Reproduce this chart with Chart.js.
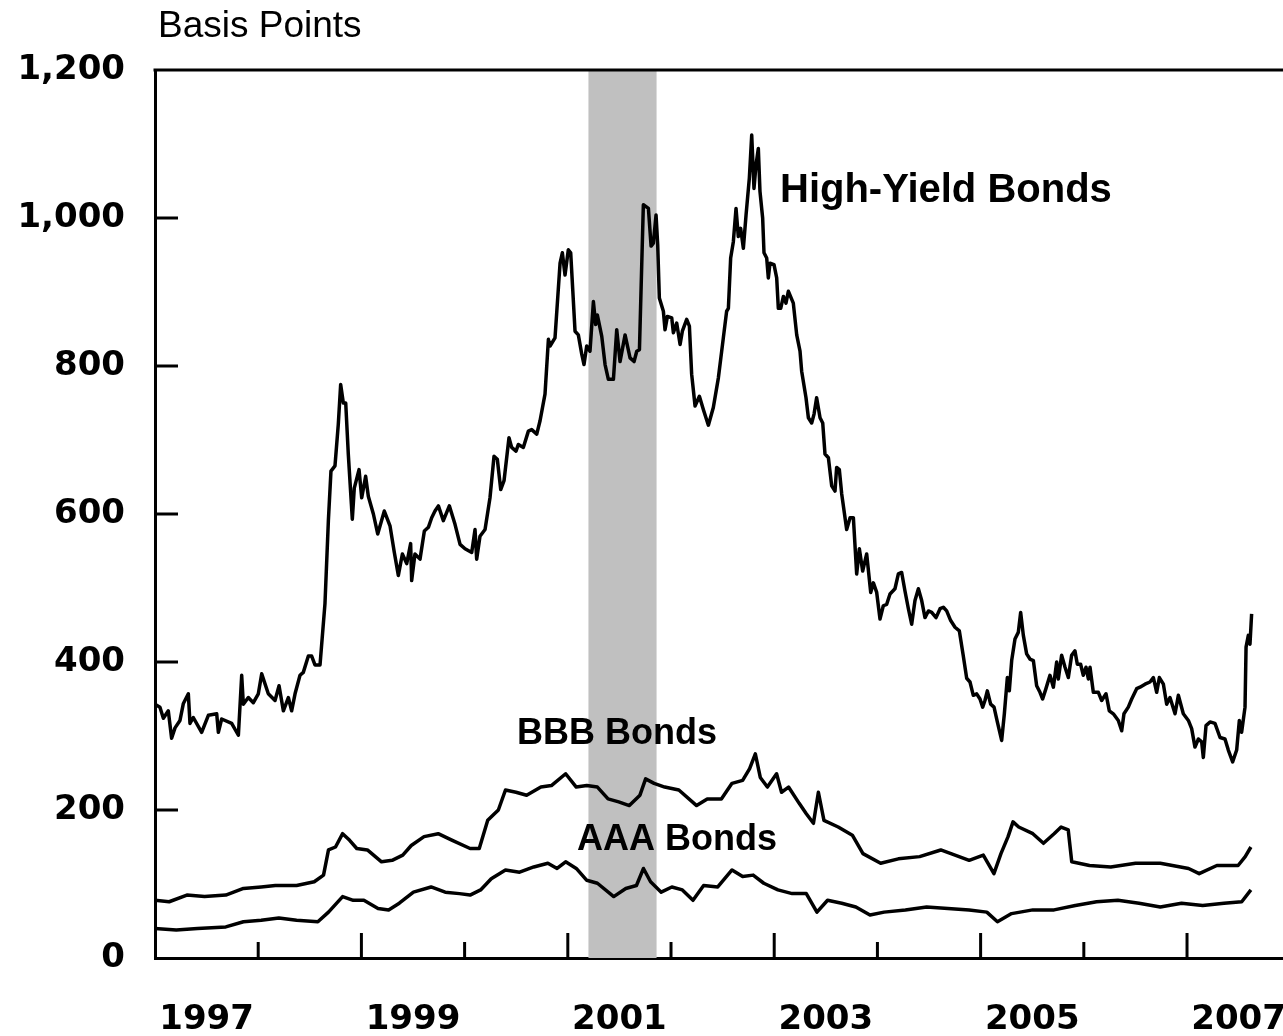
<!DOCTYPE html>
<html>
<head>
<meta charset="utf-8">
<title>Corporate Bond Spreads</title>
<script src="https://cdn.jsdelivr.net/npm/chart.js@4.4.1/dist/chart.umd.min.js"></script>
<style>
    html, body { margin: 0; padding: 0; background: #fff; }
    #wrap { width: 1283px; height: 1036px; }
</style>
</head>
<body>
<div id="wrap"><canvas id="spreadChart" width="1283" height="1036"></canvas></div>
<script>
// High-yield spread, basis points (decimal year / value)
const hyYears = [1997.000, 1997.048, 1997.081, 1997.129, 1997.161, 1997.194, 1997.242, 1997.275, 1997.323, 1997.339, 1997.371, 1997.452, 1997.517, 1997.598, 1997.614, 1997.646, 1997.743, 1997.808, 1997.840, 1997.856, 1997.904, 1997.953,
    1998.001, 1998.034, 1998.098, 1998.163, 1998.202, 1998.244, 1998.292, 1998.324, 1998.357, 1998.405, 1998.437, 1998.486, 1998.518, 1998.550, 1998.599, 1998.647, 1998.680, 1998.705, 1998.744, 1998.776, 1998.799, 1998.825, 1998.848, 1998.873, 1998.912, 1998.931, 1998.977,
    1999.003, 1999.041, 1999.067, 1999.116, 1999.158, 1999.222, 1999.277, 1999.319, 1999.358, 1999.397, 1999.439, 1999.477, 1999.487, 1999.519, 1999.568, 1999.610, 1999.649, 1999.681, 1999.713, 1999.746, 1999.794, 1999.852, 1999.907, 1999.956,
    2000.004, 2000.069, 2000.101, 2000.117, 2000.149, 2000.198, 2000.246, 2000.285, 2000.317, 2000.350, 2000.382, 2000.430, 2000.456, 2000.498, 2000.521, 2000.569, 2000.618, 2000.650, 2000.699, 2000.731, 2000.779, 2000.812, 2000.828, 2000.876, 2000.925, 2000.947, 2000.973,
    2001.005, 2001.028, 2001.070, 2001.102, 2001.135, 2001.157, 2001.183, 2001.215, 2001.248, 2001.270, 2001.286, 2001.329, 2001.361, 2001.393, 2001.442, 2001.474, 2001.506, 2001.555, 2001.603, 2001.642, 2001.668, 2001.694, 2001.732, 2001.781, 2001.807, 2001.829, 2001.855, 2001.871, 2001.887, 2001.926, 2001.942, 2001.965,
    2002.007, 2002.023, 2002.055, 2002.088, 2002.110, 2002.152, 2002.178, 2002.200, 2002.233, 2002.275, 2002.314, 2002.362, 2002.410, 2002.459, 2002.507, 2002.539, 2002.556, 2002.578, 2002.604, 2002.630, 2002.652, 2002.675, 2002.701, 2002.727, 2002.759, 2002.782, 2002.804, 2002.824, 2002.846, 2002.862, 2002.888, 2002.901, 2002.927, 2002.943, 2002.959, 2002.998,
    2003.024, 2003.040, 2003.063, 2003.089, 2003.114, 2003.137, 2003.185, 2003.218, 2003.250, 2003.266, 2003.308, 2003.331, 2003.363, 2003.386, 2003.411, 2003.444, 2003.470, 2003.492, 2003.525, 2003.557, 2003.589, 2003.605, 2003.631, 2003.654, 2003.702, 2003.735, 2003.767, 2003.799, 2003.825, 2003.857, 2003.896, 2003.935, 2003.961, 2003.993,
    2004.025, 2004.057, 2004.090, 2004.122, 2004.170, 2004.203, 2004.235, 2004.267, 2004.300, 2004.332, 2004.364, 2004.397, 2004.429, 2004.461, 2004.494, 2004.526, 2004.568, 2004.607, 2004.639, 2004.671, 2004.710, 2004.752, 2004.794, 2004.830, 2004.865, 2004.897, 2004.929, 2004.962, 2004.994,
    2005.020, 2005.042, 2005.065, 2005.097, 2005.130, 2005.162, 2005.204, 2005.230, 2005.259, 2005.278, 2005.301, 2005.333, 2005.365, 2005.388, 2005.414, 2005.446, 2005.478, 2005.511, 2005.543, 2005.575, 2005.601, 2005.633, 2005.672, 2005.705, 2005.737, 2005.753, 2005.785, 2005.818, 2005.850, 2005.882, 2005.914, 2005.937, 2005.969, 2005.995,
    2006.021, 2006.044, 2006.060, 2006.092, 2006.141, 2006.173, 2006.215, 2006.247, 2006.286, 2006.334, 2006.367, 2006.389, 2006.431, 2006.464, 2006.512, 2006.544, 2006.593, 2006.641, 2006.674, 2006.706, 2006.732, 2006.771, 2006.803, 2006.835, 2006.884, 2006.916, 2006.964,
    2007.013, 2007.045, 2007.077, 2007.110, 2007.142, 2007.158, 2007.184, 2007.223, 2007.271, 2007.320, 2007.368, 2007.400, 2007.442, 2007.481, 2007.507, 2007.529, 2007.562, 2007.572, 2007.594, 2007.610, 2007.626];
const hyBps = [343, 339, 324, 334, 297, 311, 321, 344, 357, 317, 325, 305, 328, 330, 305, 323, 317, 301, 382, 343, 352, 345,
    357, 384, 357, 348, 368, 334, 352, 334, 357, 382, 386, 408, 408, 396, 396, 479, 591, 658, 665, 721, 775, 750, 750, 681, 593, 635, 660,
    622, 651, 624, 600, 573, 604, 584, 548, 517, 546, 533, 560, 510, 546, 539, 577, 582, 595, 604, 611, 591, 611, 586, 559,
    553, 548, 579, 539, 570, 579, 622, 678, 674, 633, 645, 703, 690, 685, 694, 690, 712, 714, 708, 726, 762, 836, 827, 838, 939, 953, 923,
    957, 953, 847, 842, 816, 802, 827, 820, 887, 856, 869, 840, 802, 782, 782, 849, 806, 842, 811, 806, 820, 822, 1018, 1013, 962, 966, 1004, 964, 892, 874, 849, 867,
    865, 845, 858, 829, 847, 863, 854, 789, 746, 759, 741, 720, 744, 784, 838, 874, 878, 946, 968, 1013, 975, 986, 959, 1004, 1054, 1112, 1040, 1072, 1094, 1036, 1000, 953, 946, 919, 939, 937,
    919, 878, 878, 894, 885, 901, 885, 842, 820, 793, 757, 730, 723, 735, 757, 730, 723, 681, 676, 638, 631, 663, 660, 627, 579, 595, 595, 519, 553, 523, 546, 494, 507, 494,
    458, 476, 478, 492, 499, 519, 521, 496, 472, 451, 483, 499, 483, 460, 469, 467, 460, 472, 474, 469, 456, 447, 442, 410, 378, 373, 355, 357, 350,
    339, 348, 361, 343, 339, 319, 294, 330, 379, 361, 402, 431, 440, 467, 436, 411, 404, 402, 368, 359, 350, 364, 382, 366, 400, 377, 409, 393, 379, 409, 415, 397, 397, 382,
    393, 377, 393, 359, 359, 348, 357, 334, 330, 321, 307, 330, 339, 350, 364, 366, 370, 373, 379, 359, 379, 370, 343, 352, 330, 355, 330,
    321, 310, 285, 296, 292, 271, 314, 319, 317, 298, 296, 281, 265, 281, 321, 305, 339, 420, 436, 424, 465];

// BBB spread
const bbbYears = [1997.000, 1997.137, 1997.309, 1997.480, 1997.686, 1997.857, 1998.029, 1998.166, 1998.372, 1998.543, 1998.633, 1998.681, 1998.749, 1998.818, 1998.886, 1998.955,
    1999.058, 1999.195, 1999.298, 1999.401, 1999.483, 1999.607, 1999.744, 1999.881, 2000.053, 2000.142, 2000.224, 2000.327, 2000.396, 2000.498, 2000.601, 2000.739, 2000.841, 2000.979,
    2001.082, 2001.184, 2001.287, 2001.390, 2001.493, 2001.596, 2001.699, 2001.754, 2001.836, 2001.939, 2002.076, 2002.248, 2002.351, 2002.488, 2002.591, 2002.694, 2002.762, 2002.817, 2002.865, 2002.934,
    2003.023, 2003.071, 2003.139, 2003.242, 2003.311, 2003.380, 2003.428, 2003.482, 2003.620, 2003.757, 2003.860, 2004.031, 2004.203, 2004.409, 2004.614, 2004.752, 2004.889,
    2005.026, 2005.129, 2005.197, 2005.266, 2005.314, 2005.369, 2005.506, 2005.609, 2005.712, 2005.780, 2005.849, 2005.883, 2006.055, 2006.261, 2006.501, 2006.741,
    2007.015, 2007.118, 2007.289, 2007.495, 2007.564, 2007.619];
const bbbBps = [78, 76, 85, 83, 85, 94, 96, 98, 98, 103, 112, 146, 150, 168, 159, 148,
    146, 130, 132, 139, 152, 164, 168, 159, 148, 148, 186, 200, 227, 224, 220, 231, 233, 249,
    231, 233, 231, 215, 211, 206, 220, 242, 236, 231, 227, 206, 215, 215, 236, 240, 256, 276, 244, 231,
    249, 224, 231, 209, 195, 182, 224, 186, 177, 166, 141, 128, 134, 137, 146, 139, 132,
    139, 114, 141, 164, 184, 177, 168, 155, 168, 177, 173, 130, 125, 123, 128, 128,
    121, 114, 125, 125, 137, 150];

// AAA spread
const aaaYears = [1997.000, 1997.206, 1997.412, 1997.686, 1997.857, 1998.029, 1998.200, 1998.372, 1998.578, 1998.681, 1998.818, 1998.921,
    1999.024, 1999.161, 1999.264, 1999.367, 1999.504, 1999.675, 1999.812, 1999.950, 2000.053, 2000.155, 2000.258, 2000.396, 2000.533, 2000.670, 2000.807, 2000.896, 2000.979,
    2001.082, 2001.184, 2001.287, 2001.445, 2001.562, 2001.665, 2001.733, 2001.802, 2001.905, 2002.008, 2002.110, 2002.213, 2002.316, 2002.453, 2002.591, 2002.694, 2002.796, 2002.899,
    2003.036, 2003.174, 2003.311, 2003.414, 2003.517, 2003.654, 2003.791, 2003.928, 2004.065, 2004.271, 2004.477, 2004.683, 2004.889,
    2005.060, 2005.163, 2005.300, 2005.506, 2005.712, 2005.918, 2006.124, 2006.330, 2006.535, 2006.741, 2006.947, 2007.152, 2007.358, 2007.530, 2007.619];
const aaaBps = [40, 38, 40, 42, 49, 51, 54, 51, 49, 62, 83, 78,
    78, 67, 65, 74, 89, 96, 89, 87, 85, 92, 107, 119, 116, 123, 128, 121, 130,
    121, 105, 101, 83, 94, 98, 121, 103, 89, 96, 92, 78, 98, 96, 119, 110, 112, 101,
    92, 87, 87, 62, 78, 74, 69, 58, 62, 65, 69, 67, 65,
    62, 49, 60, 65, 65, 71, 76, 78, 74, 69, 74, 71, 74, 76, 92];

const xLabelYears = [1997, 1999, 2001, 2003, 2005, 2007];
const xTickYears = [1998, 1999, 2000, 2001, 2002, 2003, 2004, 2005, 2006, 2007];
const yTickValues = [0, 200, 400, 600, 800, 1000, 1200];
const recession = [2001.20, 2001.86];

function toPoints(xs, ys) {
    return xs.map((x, i) => ({ x: x, y: ys[i] }));
}

const recessionBand = {
    id: 'recessionBand',
    beforeDatasetsDraw(chart) {
        const ctx = chart.ctx;
        const area = chart.chartArea;
        const x = chart.scales.x;
        const x0 = x.getPixelForValue(recession[0]);
        const x1 = x.getPixelForValue(recession[1]);
        ctx.save();
        ctx.fillStyle = '#c0c0c0';
        ctx.fillRect(x0, area.top, x1 - x0, area.bottom - area.top);
        ctx.restore();
    }
};

const frameAndText = {
    id: 'frameAndText',
    afterDraw(chart) {
        const ctx = chart.ctx;
        const area = chart.chartArea;
        const x = chart.scales.x;
        const y = chart.scales.y;
        ctx.save();
        ctx.strokeStyle = '#000';
        ctx.lineWidth = 3;

        // top frame line
        ctx.beginPath();
        ctx.moveTo(area.left - 1.5, area.top);
        ctx.lineTo(area.right, area.top);
        ctx.stroke();

        // year ticks pointing up, long ones on odd years
        xTickYears.forEach(yr => {
            const px = x.getPixelForValue(yr);
            const len = yr % 2 === 1 ? 25 : 16;
            ctx.beginPath();
            ctx.moveTo(px, area.bottom);
            ctx.lineTo(px, area.bottom - len);
            ctx.stroke();
        });

        // value ticks pointing right
        yTickValues.forEach(v => {
            if (v === 0 || v === 1200) return;
            const py = y.getPixelForValue(v);
            ctx.beginPath();
            ctx.moveTo(area.left, py);
            ctx.lineTo(area.left + 23, py);
            ctx.stroke();
        });

        ctx.fillStyle = '#000';
        ctx.textBaseline = 'middle';
        ctx.textAlign = 'left';
        ctx.font = '37px "Liberation Sans", Arial, sans-serif';
        ctx.fillText('Basis Points', 158, 27);

        ctx.font = 'bold 40px "Liberation Sans", Arial, sans-serif';
        ctx.fillText('High-Yield Bonds', x.getPixelForValue(2003.056), y.getPixelForValue(1036));
        ctx.font = 'bold 36px "Liberation Sans", Arial, sans-serif';
        ctx.fillText('BBB Bonds', x.getPixelForValue(2000.508), y.getPixelForValue(303));
        ctx.fillText('AAA Bonds', x.getPixelForValue(2001.089), y.getPixelForValue(159));
        ctx.restore();
    }
};

const ctx = document.getElementById('spreadChart').getContext('2d');
new Chart(ctx, {
    type: 'line',
    data: {
        datasets: [
            { label: 'High-Yield Bonds', data: toPoints(hyYears, hyBps), borderColor: '#000', borderWidth: 3.5 },
            { label: 'BBB Bonds', data: toPoints(bbbYears, bbbBps), borderColor: '#000', borderWidth: 3.5 },
            { label: 'AAA Bonds', data: toPoints(aaaYears, aaaBps), borderColor: '#000', borderWidth: 3.5 }
        ]
    },
    options: {
        responsive: false,
        animation: false,
        devicePixelRatio: 1,
        layout: {
            padding: { top: 70, left: 0, right: 0, bottom: 0 }
        },
        elements: {
            line: { tension: 0, fill: false, borderJoinStyle: 'round' },
            point: { radius: 0 }
        },
        plugins: {
            legend: { display: false },
            tooltip: { enabled: false }
        },
        scales: {
            x: {
                type: 'linear',
                min: 1997,
                max: 2007.93,
                grid: { display: false },
                border: { display: true, color: '#000', width: 3 },
                afterBuildTicks: function (scale) {
                    scale.ticks = xLabelYears.map(yr => ({ value: yr + 0.5 }));
                },
                afterFit: function (scale) {
                    scale.height = 78;
                    scale.paddingLeft = 0;
                    scale.paddingRight = 0;
                },
                ticks: {
                    autoSkip: false,
                    maxRotation: 0,
                    padding: 34,
                    color: '#000',
                    font: { family: "'DejaVu Sans'", size: 34, weight: 'bold' },
                    callback: function (value, index) {
                        return String(xLabelYears[index]);
                    }
                }
            },
            y: {
                min: 0,
                max: 1200,
                grid: { display: false },
                border: { display: true, color: '#000', width: 3 },
                afterBuildTicks: function (scale) {
                    scale.ticks = yTickValues.map(v => ({ value: v }));
                },
                afterFit: function (scale) {
                    scale.width = 155;
                    scale.paddingTop = 0;
                    scale.paddingBottom = 0;
                },
                ticks: {
                    padding: 22,
                    color: '#000',
                    font: { family: "'DejaVu Sans'", size: 34, weight: 'bold' },
                    callback: function (value) {
                        return value.toLocaleString('en-US');
                    }
                }
            }
        }
    },
    plugins: [recessionBand, frameAndText]
});
</script>
</body>
</html>
